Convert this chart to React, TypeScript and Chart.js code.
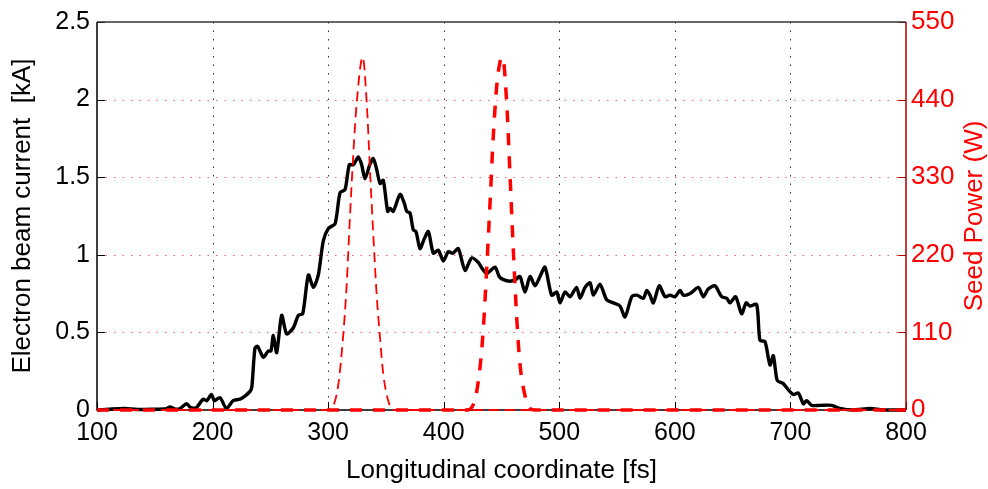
import React, { useEffect, useRef } from "react";
import { Chart, registerables } from "chart.js";

Chart.register(...registerables);

// ---- data ----
const beamX = [
  100, 110, 124, 135, 150, 160, 163, 168, 172, 177.6, 181, 186, 191.8, 195, 199, 201.5, 206.4, 212, 217.8, 223.7,
  228, 232.4, 234, 236.7, 239, 243.9, 248.2, 250.5, 252.6, 255.5, 259.8, 264.1, 269.9, 274.2, 278, 282.9, 287.2,
  291.5, 295.8, 300.2, 306, 310.3, 314.6, 318.3, 321.8, 326.1, 329, 331.9, 336, 339.1, 342, 344.9, 347.7, 351.5,
  353.5, 356.4, 362.2, 366, 368, 370.8, 373.7, 376, 379.5, 383, 386.7, 391, 395.3, 399.7, 404, 408, 412.6, 418.4,
  424.2, 430, 432.5, 437.2, 444.4, 448, 451.6, 457.4, 462, 466, 470.3, 474.7, 479, 483.3, 487.6, 493.4, 497.8,
  500.6, 505, 509.3, 515, 517.9, 522.3, 526.6, 529.5, 535.2, 541, 546.8, 552.5, 556.9, 562.7, 567, 572.7, 575.6,
  578.5, 581.4, 586.5, 591.5, 595.8, 600.2, 604.5, 607.4, 613.2, 620.3, 624.6, 628.9, 634.7, 640.5, 644.9, 647.7,
  652.6, 657.8, 661.6, 665, 670.8, 673.6, 678, 682.3, 685.2, 688.6, 693.8, 698.2, 702.5, 706.8, 711.2, 714, 718.4,
  725.6, 735.7, 742.9, 754, 769, 780, 800,
];
const beamCurrent = [
  0, 0.005, 0.01, 0.003, 0.005, 0.008, 0.02, 0.005, 0.01, 0.04, 0.015, 0.015, 0.07, 0.06, 0.1, 0.06, 0.08, 0.01, 0.06, 0.07,
  0.09, 0.12, 0.15, 0.4, 0.41, 0.34, 0.38, 0.38, 0.48, 0.37, 0.61, 0.49, 0.53, 0.61, 0.62, 0.87, 0.79,
  0.87, 1.09, 1.17, 1.2, 1.4, 1.42, 1.58, 1.58, 1.63, 1.58, 1.49, 1.58, 1.62, 1.55, 1.46, 1.48, 1.28,
  1.3, 1.28, 1.39, 1.33, 1.28, 1.27, 1.16, 1.15, 1.04, 1.1, 1.15, 1.01, 1.03, 0.96, 1.02, 1.01, 1.04, 0.9,
  0.98, 0.95, 0.92, 0.88, 0.92, 0.86, 0.84, 0.83, 0.84, 0.86, 0.76, 0.86, 0.8, 0.86, 0.92, 0.74, 0.76,
  0.69, 0.76, 0.73, 0.79, 0.72, 0.79, 0.82, 0.74, 0.81, 0.71, 0.69, 0.67, 0.6, 0.73, 0.74, 0.72, 0.77,
  0.74, 0.69, 0.8, 0.73, 0.74, 0.73, 0.77, 0.74, 0.75, 0.79, 0.73, 0.78, 0.8, 0.73, 0.72, 0.69,
  0.73, 0.62, 0.69, 0.67, 0.68, 0.45, 0.44, 0.29, 0.35, 0.19, 0.17, 0.13, 0.1, 0.11, 0.04, 0.06, 0.03,
  0.03, 0.03, 0.01, 0, 0.01, 0, 0,
];

const seed1X = [100, 300, 304.5, 308.8, 313.1, 316, 318.9, 321.8, 324.7, 329.9, 333.4, 336.2, 339.1, 342, 344.9, 347.7, 352, 356, 800];
const seed1Power = [0, 0, 6, 36, 107, 177, 275, 364, 435, 500, 435, 341, 247, 163, 102, 51, 13, 0, 0];

const seed2X = [100, 419.9, 427.1, 431.4, 434.3, 437.2, 440.1, 442.9, 445.8, 448.7, 451, 454.5, 457.4, 460.3, 463.2, 466, 470.4, 474.7, 479, 800];
const seed2Power = [0, 0, 15, 60, 116, 200, 294, 388, 458, 493, 500, 435, 332, 224, 130, 65, 20, 2, 0, 0];

const xTicks = [100, 200, 300, 400, 500, 600, 700, 800];
const leftTicks = [0, 0.5, 1, 1.5, 2, 2.5];
const rightTicks = [0, 110, 220, 330, 440, 550];

const FONT = '"Liberation Sans", Arial, Helvetica, sans-serif';

const toPoints = (xs: number[], ys: number[]) => xs.map((x, i) => ({ x, y: ys[i] }));

const framePlugin = {
  id: "frameGrid",
  beforeDatasetsDraw(chart: any) {
    const { ctx, chartArea, scales } = chart;
    const { left, right, top, bottom } = chartArea;
    ctx.save();
    ctx.lineWidth = 1;
    // vertical grid (black dotted)
    ctx.setLineDash([1.5, 7]);
    ctx.strokeStyle = "#333";
    for (const v of xTicks) {
      if (v === xTicks[0] || v === xTicks[xTicks.length - 1]) continue;
      const x = Math.round(scales.x.getPixelForValue(v)) + 0.5;
      ctx.beginPath();
      ctx.moveTo(x, top);
      ctx.lineTo(x, bottom);
      ctx.stroke();
    }
    // horizontal grid (red dotted)
    ctx.strokeStyle = "rgba(255,40,40,0.75)";
    for (const v of rightTicks) {
      if (v === rightTicks[0] || v === rightTicks[rightTicks.length - 1]) continue;
      const y = Math.round(scales.y2.getPixelForValue(v)) + 0.5;
      ctx.beginPath();
      ctx.moveTo(left, y);
      ctx.lineTo(right, y);
      ctx.stroke();
    }
    ctx.setLineDash([]);
    // inward ticks
    const tl = 8;
    ctx.strokeStyle = "#000";
    for (const v of xTicks) {
      const x = Math.round(scales.x.getPixelForValue(v)) + 0.5;
      ctx.beginPath();
      ctx.moveTo(x, bottom);
      ctx.lineTo(x, bottom - tl);
      ctx.stroke();
    }
    for (const v of leftTicks) {
      const y = Math.round(scales.y.getPixelForValue(v)) + 0.5;
      ctx.beginPath();
      ctx.moveTo(left, y);
      ctx.lineTo(left + tl, y);
      ctx.stroke();
    }
    ctx.strokeStyle = "#b00000";
    for (const v of rightTicks) {
      const y = Math.round(scales.y2.getPixelForValue(v)) + 0.5;
      ctx.beginPath();
      ctx.moveTo(right, y);
      ctx.lineTo(right - tl, y);
      ctx.stroke();
    }
    // frame
    ctx.lineWidth = 1.5;
    ctx.strokeStyle = "#333";
    ctx.beginPath();
    ctx.moveTo(left, top);
    ctx.lineTo(right, top);
    ctx.stroke();
    ctx.strokeStyle = "#000";
    ctx.beginPath();
    ctx.moveTo(left, top);
    ctx.lineTo(left, bottom);
    ctx.lineTo(right, bottom);
    ctx.stroke();
    ctx.strokeStyle = "#b00000";
    ctx.beginPath();
    ctx.moveTo(right, top);
    ctx.lineTo(right, bottom);
    ctx.stroke();
    ctx.restore();
  },
  afterDraw(chart: any) {
    const { ctx, chartArea } = chart;
    ctx.save();
    ctx.translate(975, (chartArea.top + chartArea.bottom) / 2);
    ctx.rotate(-Math.PI / 2);
    ctx.fillStyle = "#ff0000";
    ctx.font = `26px ${FONT}`;
    ctx.textAlign = "center";
    ctx.textBaseline = "middle";
    ctx.fillText("Seed Power (W)", 0, 0);
    ctx.restore();
  },
};

export default function App() {
  const ref = useRef<HTMLCanvasElement>(null);
  useEffect(() => {
    const canvas = ref.current!;
    const chart = new Chart(canvas, {
      type: "line",
      data: {
        datasets: [
          {
            label: "Seed 1",
            data: toPoints(seed1X, seed1Power),
            yAxisID: "y2",
            borderColor: "#ff0000",
            borderWidth: 1.8,
            borderDash: [10, 6],
            pointRadius: 0,
            cubicInterpolationMode: "monotone",
            clip: false,
            order: 2,
          },
          {
            label: "Seed 2",
            data: toPoints(seed2X, seed2Power),
            yAxisID: "y2",
            borderColor: "#ff0000",
            borderWidth: 3.5,
            borderDash: [12, 11],
            pointRadius: 0,
            cubicInterpolationMode: "monotone",
            clip: false,
            order: 1,
          },
          {
            label: "Electron beam current",
            data: toPoints(beamX, beamCurrent),
            yAxisID: "y",
            borderColor: "#000000",
            borderWidth: 3.4,
            pointRadius: 0,
            tension: 0.25,
            borderJoinStyle: "round",
            clip: false,
            order: 3,
          },
        ],
      },
      options: {
        animation: false,
        responsive: false,
        devicePixelRatio: 1,
        layout: { padding: { top: 18, left: 0, right: 0, bottom: 0 } },
        plugins: { legend: { display: false }, tooltip: { enabled: false } },
        scales: {
          x: {
            type: "linear",
            min: 100,
            max: 800,
            afterBuildTicks: (s: any) => {
              s.ticks = xTicks.map((v) => ({ value: v }));
            },
            afterFit: (s: any) => {
              s.height = 79;
            },
            grid: { display: false, drawTicks: false },
            border: { display: false },
            ticks: {
              color: "#000",
              font: { family: FONT, size: 25 },
              padding: 8,
              maxRotation: 0,
              callback: (v: any) => String(v),
            },
            title: {
              display: true,
              text: "Longitudinal coordinate [fs]",
              color: "#000",
              font: { family: FONT, size: 26 },
              padding: { top: 0, bottom: 3 },
            },
          },
          y: {
            type: "linear",
            position: "left",
            min: 0,
            max: 2.5,
            afterBuildTicks: (s: any) => {
              s.ticks = leftTicks.map((v) => ({ value: v }));
            },
            afterFit: (s: any) => {
              s.width = 97;
            },
            grid: { display: false, drawTicks: false },
            border: { display: false },
            ticks: {
              color: "#000",
              font: { family: FONT, size: 25 },
              padding: 7,
              callback: (v: any) => String(v),
            },
            title: {
              display: true,
              text: "Electron beam current  [kA]",
              color: "#000",
              font: { family: FONT, size: 26 },
              padding: { top: 7, bottom: 0 },
            },
          },
          y2: {
            type: "linear",
            position: "right",
            min: 0,
            max: 550,
            afterBuildTicks: (s: any) => {
              s.ticks = rightTicks.map((v) => ({ value: v }));
            },
            afterFit: (s: any) => {
              s.width = 82;
            },
            grid: { display: false, drawTicks: false },
            border: { display: false },
            ticks: {
              color: "#ff0000",
              font: { family: FONT, size: 26 },
              padding: 5,
              callback: (v: any) => String(v),
            },
          },
        },
      },
      plugins: [framePlugin],
    } as any);
    return () => chart.destroy();
  }, []);
  return (
    <div style={{ position: "fixed", left: 0, top: 0, width: 988, height: 489, background: "#fff" }}>
      <canvas ref={ref} width={988} height={489} style={{ display: "block", width: 988, height: 489 }} />
    </div>
  );
}
